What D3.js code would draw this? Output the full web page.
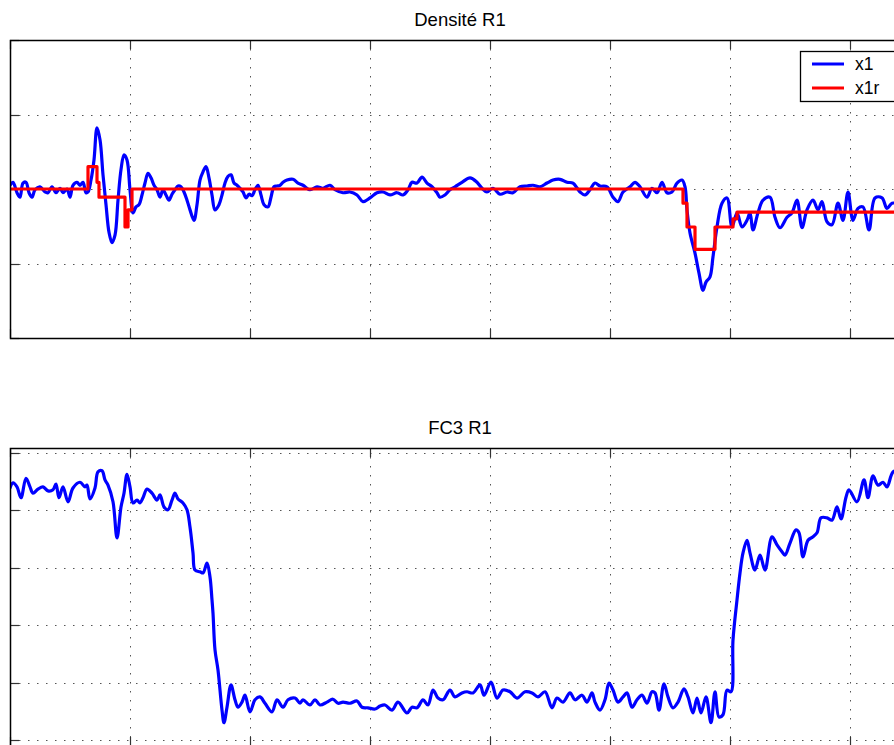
<!DOCTYPE html>
<html>
<head>
<meta charset="utf-8">
<script src="https://cdn.jsdelivr.net/npm/d3@7"></script>
<style>
body { margin: 0; background: #fff; }
svg { display: block; font-family: "Liberation Sans", Arial, sans-serif; }
</style>
</head>
<body>
<div id="chart"></div>
<script>
const width = 894;
const height = 745;

// Time in minutes, tick every 120
const xTicks = [0, 120, 240, 360, 480, 600, 720, 840];
const densTicks = [-2, -1, 0, 1, 2];
const fc3Ticks = [0, 1, 2, 3, 4, 5];

// Densité R1 : x1 (measured) as [t, value]
const x1 = [
  [0,0.05],[3,0.09],[7,-0.05],[10,-0.11],[13,0.08],[16,0.09],[19,-0.05],[22,-0.11],[25,-0.01],[30,0.03],
  [35,-0.04],[38,-0.05],[42,0.03],[46,-0.05],[50,0.01],[53,-0.05],[57,0],[60,-0.11],[63,0.05],[67,0.09],
  [70,0.05],[73,0.09],[76,-0.05],[78,-0.04],[81,0.12],[84,0.39],[87,0.82],[90,0.66],[93,0.19],[96,-0.21],
  [99,-0.58],[102,-0.72],[105,-0.62],[108,-0.15],[111,0.26],[114,0.46],[117,0.39],[120,-0.01],[123,-0.32],[126,-0.24],
  [129,-0.21],[132,-0.08],[135,0.08],[138,0.21],[141,0.15],[144,0.05],[147,-0.01],[150,-0.11],[153,-0.01],[156,-0.08],
  [159,-0.15],[162,-0.07],[165,-0.01],[168,0.04],[171,0.03],[174,-0.04],[177,-0.15],[180,-0.28],[184,-0.42],[187,-0.21],
  [190,0.12],[193,0.23],[196,0.30],[199,0.15],[202,-0.08],[205,-0.28],[209,-0.21],[212,-0.08],[215,0.08],[218,0.17],
  [221,0.19],[224,0.08],[227,0.05],[230,0.01],[233,-0.04],[236,-0.12],[239,-0.07],[242,-0.09],[245,-0.01],[248,0.05],
  [251,-0.08],[254,-0.21],[258,-0.24],[261,-0.11],[264,0.03],[267,0.04],[270,0.05],[273,0.09],[277,0.12],[283,0.13],
  [288,0.08],[293,0.05],[300,-0.01],[307,0.03],[313,0.01],[320,0.05],[325,-0.01],[333,-0.05],[340,-0.04],[347,-0.08],
  [353,-0.17],[360,-0.12],[367,-0.05],[373,-0.04],[380,-0.08],[387,-0.05],[393,-0.08],[398,-0.01],[402,0.09],[407,0.08],
  [412,0.16],[417,0.08],[422,0.03],[427,-0.05],[430,-0.11],[435,-0.08],[440,-0.01],[445,0.03],[452,0.09],[460,0.15],
  [467,0.09],[472,0.01],[477,-0.04],[483,0.01],[490,-0.07],[497,-0.04],[503,-0.05],[510,0.03],[517,0.04],[523,0.05],
  [530,0.03],[537,0.08],[543,0.12],[550,0.13],[557,0.09],[563,0.08],[570,-0.04],[575,-0.08],[580,-0.01],[585,0.08],
  [590,0.04],[597,0.03],[603,-0.11],[608,-0.17],[613,-0.04],[620,0.03],[625,0.09],[630,0.03],[637,-0.11],[642,0.01],
  [647,-0.05],[652,0.09],[657,-0.05],[662,-0.04],[667,0.08],[672,0.12],[675,0.03],[677,-0.28],[680,-0.59],[685,-0.86],
  [689,-1.13],[693,-1.36],[696,-1.25],[700,-1.18],[703,-0.91],[707,-0.51],[712,-0.19],[717,-0.12],[722,-0.51],[727,-0.32],
  [732,-0.51],[737,-0.42],[740,-0.32],[743,-0.55],[748,-0.32],[753,-0.15],[760,-0.11],[765,-0.38],[770,-0.52],[777,-0.38],
  [782,-0.32],[787,-0.15],[792,-0.52],[797,-0.28],[803,-0.15],[808,-0.28],[812,-0.17],[817,-0.44],[822,-0.48],[828,-0.19],
  [833,-0.42],[838,-0.04],[843,-0.42],[848,-0.26],[853,-0.24],[859,-0.55],[865,-0.12],[872,-0.12],[877,-0.26],[882,-0.19],
  [890,-0.21]
];

// Densité R1 : x1r (reconstructed, piecewise constant) as [t, value]
const x1r = [
  [0,0],[78,0.30],[87,0.09],[89,-0.11],[115,-0.51],[118,-0.28],[122,0],[673,-0.19],[677,-0.51],[685,-0.81],
  [705,-0.51],[723,-0.40],[727,-0.31],[890,-0.31]
];

// FC3 R1 as [t, value]
const fc3 = [
  [0,4.39],[3,4.48],[7,4.41],[11,4.22],[16,4.56],[20,4.41],[23,4.30],[28,4.37],[33,4.41],[38,4.34],
  [43,4.36],[46,4.46],[49,4.22],[53,4.41],[58,4.15],[63,4.39],[70,4.49],[75,4.41],[77,4.44],[80,4.20],
  [85,4.39],[88,4.67],[92,4.69],[95,4.53],[98,4.44],[103,4.15],[107,3.52],[111,4.06],[114,4.30],[117,4.63],
  [120,4.41],[123,4.13],[127,4.18],[130,4.13],[133,4.22],[137,4.37],[142,4.30],[147,4.18],[150,4.27],[154,4.06],
  [158,4.01],[162,4.18],[165,4.30],[168,4.20],[173,4.13],[177,4.01],[180,3.71],[183,3.26],[185,2.96],[190,2.93],
  [193,2.91],[197,3.08],[200,2.84],[202,2.44],[203,2.21],[205,1.57],[208,1.22],[212,0.52],[214,0.30],[217,0.57],
  [221,0.96],[225,0.70],[228,0.57],[232,0.66],[235,0.78],[240,0.49],[245,0.70],[250,0.75],[255,0.64],[262,0.49],
  [267,0.70],[273,0.57],[278,0.70],[285,0.73],[290,0.64],[293,0.70],[300,0.61],[305,0.70],[310,0.61],[317,0.66],
  [323,0.71],[328,0.64],[333,0.66],[340,0.64],[347,0.68],[352,0.57],[358,0.56],[365,0.54],[370,0.59],[375,0.61],
  [382,0.52],[388,0.66],[397,0.47],[402,0.57],[407,0.56],[413,0.70],[418,0.61],[423,0.87],[428,0.73],[433,0.70],
  [440,0.87],[445,0.75],[452,0.82],[457,0.84],[463,0.82],[470,0.96],[474,0.78],[481,1.01],[487,0.73],[493,0.87],
  [500,0.84],[507,0.73],[515,0.84],[522,0.82],[528,0.75],[535,0.84],[542,0.56],[547,0.73],[553,0.66],[560,0.82],
  [565,0.70],[572,0.78],[577,0.66],[582,0.82],[585,0.66],[590,0.52],[595,0.70],[599,0.99],[603,0.87],[608,0.66],
  [613,0.75],[617,0.82],[622,0.57],[627,0.70],[632,0.78],[637,0.64],[642,0.84],[645,0.82],[649,0.52],[654,0.98],
  [658,0.75],[663,0.56],[668,0.66],[674,0.89],[678,0.75],[683,0.47],[687,0.73],[691,0.47],[696,0.75],[701,0.30],
  [705,0.84],[709,0.40],[713,0.44],[717,0.87],[721,0.84],[723,1.74],[727,2.44],[730,2.91],[733,3.26],[737,3.48],
  [740,3.26],[745,2.96],[750,3.22],[755,2.96],[762,3.54],[767,3.40],[772,3.28],[775,3.22],[780,3.43],[786,3.66],
  [789,3.61],[793,3.19],[798,3.48],[803,3.54],[807,3.61],[811,3.87],[817,3.87],[822,3.83],[827,4.06],[831,3.85],
  [836,4.23],[839,4.36],[847,4.15],[854,4.53],[858,4.22],[863,4.60],[868,4.44],[873,4.49],[877,4.41],[883,4.67],
  [890,4.70]
];

const legendLabels = ["x1", "x1r"];

// Panel layout (the figure is cropped: right edge of the axes lies off-canvas)
const plotLeft = 10;
const plotRight = 910;
const tickLen = 9;

const xScale = d3.scaleLinear().domain([0, 900]).range([plotLeft, plotRight]);

const smooth = d3.curveCatmullRom.alpha(0.5);

const panels = [
  { title: "Densité R1", top: 40, bottom: 338, domain: [-2, 2], ticks: densTicks,
    series: [{ data: x1, color: "#0000ff", curve: smooth },
             { data: x1r, color: "#ff0000", curve: d3.curveStepAfter }],
    legend: true },
  { title: "FC3 R1", top: 448, bottom: 746, domain: [-0.105, 5.087], ticks: fc3Ticks,
    series: [{ data: fc3, color: "#0000ff", curve: smooth }],
    legend: false }
];

const svg = d3.select("#chart")
  .append("svg")
  .attr("width", width)
  .attr("height", height);

panels.forEach((p, i) => {
  const yScale = d3.scaleLinear().domain(p.domain).range([p.bottom, p.top]);
  const g = svg.append("g");

  // white background for the axes
  g.append("rect")
    .attr("x", plotLeft).attr("y", p.top)
    .attr("width", plotRight - plotLeft).attr("height", p.bottom - p.top)
    .attr("fill", "#fff");

  // dotted grid
  g.append("g")
    .selectAll("line")
    .data(xTicks)
    .join("line")
    .attr("x1", d => Math.round(xScale(d)) + 0.5)
    .attr("x2", d => Math.round(xScale(d)) + 0.5)
    .attr("y1", p.top)
    .attr("y2", p.bottom)
    .attr("stroke", "#555")
    .attr("stroke-dasharray", "1.5,7.5");

  g.append("g")
    .selectAll("line")
    .data(p.ticks)
    .join("line")
    .attr("x1", plotLeft)
    .attr("x2", plotRight)
    .attr("y1", d => Math.round(yScale(d)) + 0.5)
    .attr("y2", d => Math.round(yScale(d)) + 0.5)
    .attr("stroke", "#555")
    .attr("stroke-dasharray", "1.5,7.5");

  // inward tick marks on all four sides
  const ticks = g.append("g").attr("stroke", "#333").attr("stroke-width", 1.2);
  xTicks.forEach(d => {
    const x = Math.round(xScale(d)) + 0.5;
    ticks.append("line").attr("x1", x).attr("x2", x).attr("y1", p.top).attr("y2", p.top + tickLen);
    ticks.append("line").attr("x1", x).attr("x2", x).attr("y1", p.bottom).attr("y2", p.bottom - tickLen);
  });
  p.ticks.forEach(d => {
    const y = Math.round(yScale(d)) + 0.5;
    ticks.append("line").attr("x1", plotLeft).attr("x2", plotLeft + tickLen).attr("y1", y).attr("y2", y);
    ticks.append("line").attr("x1", plotRight).attr("x2", plotRight - tickLen).attr("y1", y).attr("y2", y);
  });

  // clip for data lines
  const clipId = "clip" + i;
  svg.append("clipPath").attr("id", clipId)
    .append("rect")
    .attr("x", plotLeft).attr("y", p.top)
    .attr("width", plotRight - plotLeft).attr("height", p.bottom - p.top);

  p.series.forEach(s => {
    const line = d3.line()
      .x(d => xScale(d[0]))
      .y(d => yScale(d[1]))
      .curve(s.curve);
    g.append("path")
      .datum(s.data)
      .attr("clip-path", `url(#${clipId})`)
      .attr("d", line)
      .attr("fill", "none")
      .attr("stroke", s.color)
      .attr("stroke-width", 3.2)
      .attr("stroke-linejoin", "round")
      .attr("stroke-linecap", "round");
  });

  // axes box
  g.append("rect")
    .attr("x", plotLeft + 0.5).attr("y", p.top + 0.5)
    .attr("width", plotRight - plotLeft).attr("height", p.bottom - p.top)
    .attr("fill", "none")
    .attr("stroke", "#000")
    .attr("stroke-width", 1.5);

  // title
  g.append("text")
    .attr("x", (plotLeft + plotRight) / 2)
    .attr("y", p.top - 14.5)
    .attr("text-anchor", "middle")
    .attr("font-size", 18.5)
    .attr("fill", "#000")
    .text(p.title);

  // legend (NorthEast)
  if (p.legend) {
    const lg = g.append("g");
    lg.append("rect")
      .attr("x", 800.5).attr("y", p.top + 11.5)
      .attr("width", 99).attr("height", 50)
      .attr("fill", "#fff")
      .attr("stroke", "#000")
      .attr("stroke-width", 1.3);
    p.series.forEach((s, k) => {
      const y = p.top + 24 + k * 24;
      lg.append("line")
        .attr("x1", 812).attr("x2", 844)
        .attr("y1", y).attr("y2", y)
        .attr("stroke", s.color)
        .attr("stroke-width", 3);
      lg.append("text")
        .attr("x", 855)
        .attr("y", y)
        .attr("dy", "0.36em")
        .attr("font-size", 17.5)
        .attr("fill", "#000")
        .text(legendLabels[k]);
    });
  }
});
</script>
</body>
</html>
